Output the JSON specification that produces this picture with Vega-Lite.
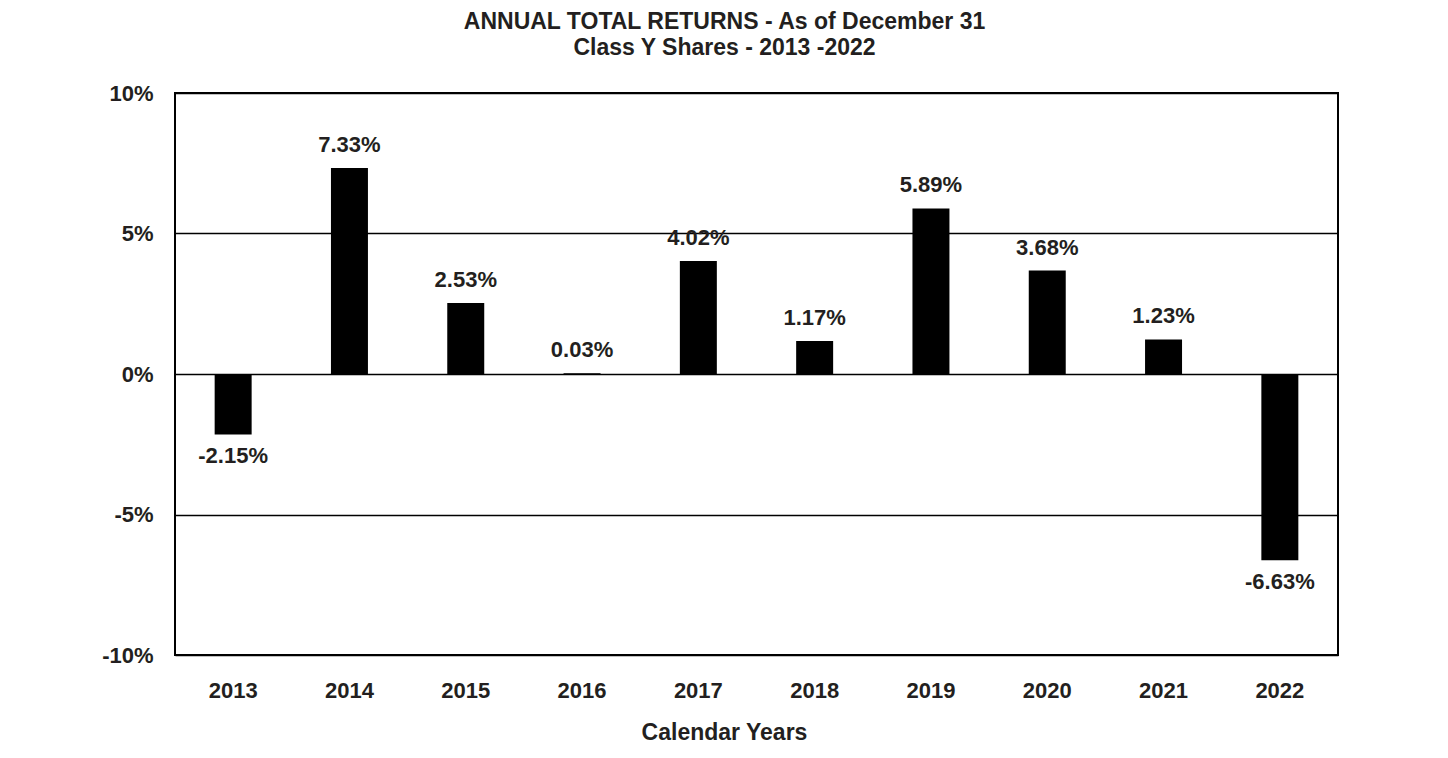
{
  "$schema": "https://vega.github.io/schema/vega-lite/v6.json",
  "width": 1163,
  "height": 562,
  "autosize": {"type": "none"},
  "padding": {"left": 175, "top": 93, "right": 110, "bottom": 103},
  "background": "white",
  "title": {
    "text": ["ANNUAL TOTAL RETURNS - As of December 31", "Class Y Shares - 2013 -2022"],
    "font": "Liberation Sans",
    "fontSize": 23,
    "fontWeight": "bold",
    "color": "#231f20",
    "lineHeight": 26,
    "anchor": "middle",
    "dx": -32,
    "offset": 22
  },
  "data": {
    "values": [
      {"year": "2013", "return": -0.0215},
      {"year": "2014", "return": 0.0733},
      {"year": "2015", "return": 0.0253},
      {"year": "2016", "return": 0.0003},
      {"year": "2017", "return": 0.0402},
      {"year": "2018", "return": 0.0117},
      {"year": "2019", "return": 0.0589},
      {"year": "2020", "return": 0.0368},
      {"year": "2021", "return": 0.0123},
      {"year": "2022", "return": -0.0663}
    ]
  },
  "encoding": {
    "x": {
      "field": "year",
      "type": "ordinal",
      "scale": {"paddingInner": 0.682, "paddingOuter": 0.341},
      "axis": {
        "labelAngle": 0,
        "domain": false,
        "ticks": false,
        "tickSize": 0,
        "labelPadding": 25,
        "labelFont": "Liberation Sans",
        "labelFontSize": 22,
        "labelFontWeight": "bold",
        "labelColor": "#231f20",
        "title": "Calendar Years",
        "titleFont": "Liberation Sans",
        "titleFontSize": 23,
        "titleFontWeight": "bold",
        "titleColor": "#231f20",
        "titleX": 549,
        "titleY": 84,
        "titleAlign": "center",
        "titleBaseline": "alphabetic"
      }
    }
  },
  "layer": [
    {
      "mark": {"type": "bar", "color": "#000000"},
      "encoding": {
        "y": {
          "field": "return",
          "type": "quantitative",
          "scale": {"domain": [-0.1, 0.1], "nice": false, "zero": true},
          "axis": {
            "values": [-0.1, -0.05, 0, 0.05, 0.1],
            "format": ".0%",
            "grid": true,
            "gridColor": "#000000",
            "gridWidth": 1.5,
            "gridOpacity": 1,
            "domain": false,
            "ticks": false,
            "tickSize": 0,
            "labelPadding": 22,
            "labelFont": "Liberation Sans",
            "labelFontSize": 22,
            "labelFontWeight": "bold",
            "labelColor": "#231f20",
            "labelBaseline": "middle",
            "title": null
          }
        }
      }
    },
    {
      "transform": [{"filter": "datum['return'] >= 0"}],
      "mark": {
        "type": "text",
        "baseline": "alphabetic",
        "align": "center",
        "dy": -16,
        "font": "Liberation Sans",
        "fontSize": 22,
        "fontWeight": "bold",
        "color": "#231f20"
      },
      "encoding": {
        "y": {"field": "return", "type": "quantitative"},
        "text": {"field": "return", "type": "quantitative", "format": ".2%"}
      }
    },
    {
      "transform": [{"filter": "datum['return'] < 0"}],
      "mark": {
        "type": "text",
        "baseline": "top",
        "align": "center",
        "dy": 12,
        "font": "Liberation Sans",
        "fontSize": 22,
        "fontWeight": "bold",
        "color": "#231f20"
      },
      "encoding": {
        "y": {"field": "return", "type": "quantitative"},
        "text": {"field": "return", "type": "quantitative", "format": ".2%"}
      }
    }
  ],
  "config": {
    "locale": {
      "number": {
        "decimal": ".",
        "thousands": ",",
        "grouping": [3],
        "currency": ["$", ""],
        "minus": "-"
      }
    },
    "view": {"stroke": "#000000", "strokeWidth": 2}
  }
}
